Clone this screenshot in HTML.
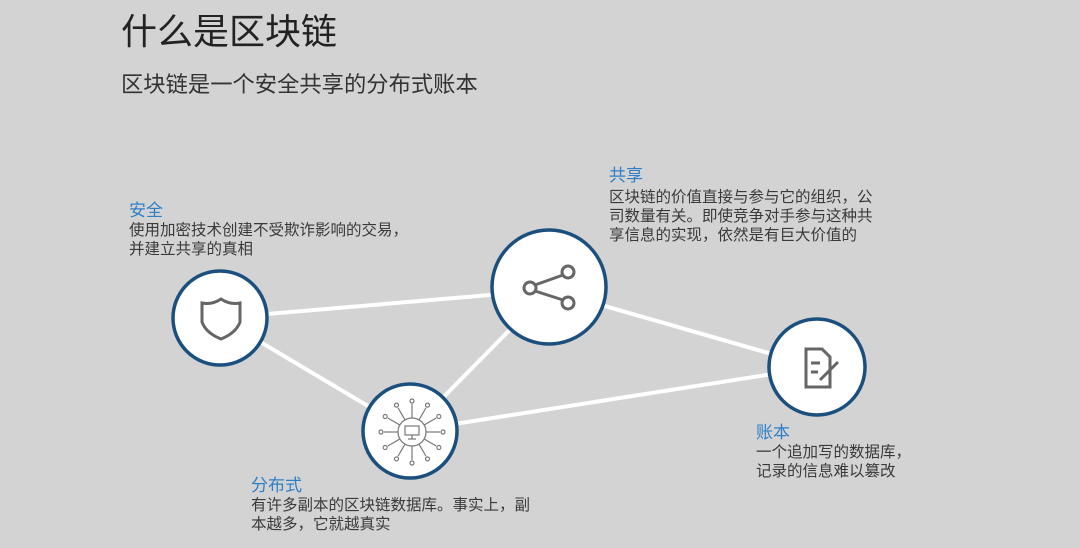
<!DOCTYPE html>
<html><head><meta charset="utf-8"><style>
body{margin:0;width:1080px;height:548px;background:#d3d3d3;overflow:hidden;position:relative;font-family:"Liberation Sans","Noto Sans CJK SC",sans-serif;}
.t{position:absolute;white-space:nowrap;color:#333;}
.h{color:#2f7fc6;font-size:17px;line-height:20px;}
.b{font-size:15.5px;line-height:19px;color:#3a3a3a;}
</style></head><body>
<div class="t" style="left:121px;top:10px;font-size:36px;line-height:44px;color:#222">什么是区块链</div>
<div class="t" style="left:121px;top:71px;font-size:22.3px;line-height:28px;color:#333">区块链是一个安全共享的分布式账本</div>
<svg width="1080" height="548" style="position:absolute;left:0;top:0">
<g stroke="#fff" stroke-width="4">
<line x1="220" y1="318" x2="549" y2="290"/>
<line x1="220" y1="318" x2="410" y2="431"/>
<line x1="549" y1="290" x2="410" y2="431"/>
<line x1="549" y1="290" x2="817" y2="367"/>
<line x1="410" y1="431" x2="817" y2="367"/>
</g>
<g fill="#fff" stroke="#1b4f7e" stroke-width="3.5">
<circle cx="220" cy="318" r="47"/>
<circle cx="549" cy="287" r="57"/>
<circle cx="410" cy="431" r="47"/>
<circle cx="817" cy="367" r="48"/>
</g>
<g fill="none" stroke="#666" stroke-width="3">
<path d="M202 303 Q212 305 221 299 Q230 305 240 303 L240 322 Q236 333 221 339 Q206 333 202 322 Z"/>
<circle cx="530" cy="288" r="6"/><circle cx="568" cy="272" r="6"/><circle cx="568" cy="303" r="6"/>
<line x1="535" y1="285" x2="563" y2="275"/><line x1="535" y1="291" x2="563" y2="300"/>
<path d="M806 349 H822 L830 357 V387 H806 Z"/>
<line x1="811" y1="363" x2="820" y2="363"/><line x1="811" y1="372" x2="818" y2="372"/>
<line x1="820" y1="380" x2="838" y2="362"/>
</g>
<g fill="none" stroke="#777" stroke-width="1.2">
<circle cx="412" cy="432" r="14"/>
<rect x="405" y="426" width="14" height="9"/>
<line x1="412" y1="435" x2="412" y2="439"/><line x1="408" y1="439" x2="416" y2="439"/>
<g id="sp">
<line x1="412" y1="418" x2="412" y2="404"/><circle cx="412" cy="401" r="2"/>
</g>
<use href="#sp" transform="rotate(30 412 432)"/><use href="#sp" transform="rotate(60 412 432)"/>
<use href="#sp" transform="rotate(90 412 432)"/><use href="#sp" transform="rotate(120 412 432)"/>
<use href="#sp" transform="rotate(150 412 432)"/><use href="#sp" transform="rotate(180 412 432)"/>
<use href="#sp" transform="rotate(210 412 432)"/><use href="#sp" transform="rotate(240 412 432)"/>
<use href="#sp" transform="rotate(270 412 432)"/><use href="#sp" transform="rotate(300 412 432)"/>
<use href="#sp" transform="rotate(330 412 432)"/>
</g>
</svg>
<div class="t h" style="left:129px;top:201px">安全</div>
<div class="t b" style="left:129px;top:221px">使用加密技术创建不受欺诈影响的交易，<br>并建立共享的真相</div>
<div class="t h" style="left:609px;top:166px">共享</div>
<div class="t b" style="left:609px;top:188px">区块链的价值直接与参与它的组织，公<br>司数量有关。即使竞争对手参与这种共<br>享信息的实现，依然是有巨大价值的</div>
<div class="t h" style="left:756px;top:423px">账本</div>
<div class="t b" style="left:756px;top:443px">一个追加写的数据库，<br>记录的信息难以篡改</div>
<div class="t h" style="left:251px;top:476px">分布式</div>
<div class="t b" style="left:251px;top:496px">有许多副本的区块链数据库。事实上，副<br>本越多，它就越真实</div>
</body></html>
